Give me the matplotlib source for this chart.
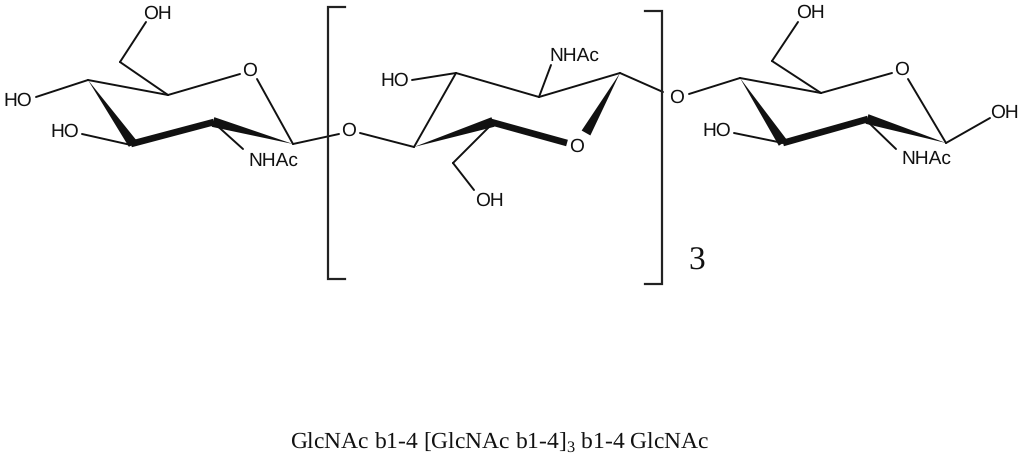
#!/usr/bin/env python3
"""Chitin oligomer structure: GlcNAc b1-4 [GlcNAc b1-4]3 b1-4 GlcNAc, drawn in pixel coords."""

import matplotlib
matplotlib.use("Agg")
import matplotlib.pyplot as plt

plt.rcParams["mathtext.fontset"] = "custom"
plt.rcParams["mathtext.rm"] = "Liberation Serif"
plt.rcParams["text.hinting"] = "no_hinting"

INK = "#111111"

# --- Structure (image pixels: x, y) ---
bonds = [
    # left ring
    ((146, 22), (120, 62)), ((120, 62), (168, 95)), ((168, 95), (240, 74)),
    ((257, 79), (293, 144)), ((88, 80), (168, 95)), ((36, 97), (88, 80)),
    ((82, 134), (131, 145)), ((213, 122), (243, 149)), ((293, 144), (339, 134)),
    # middle ring
    ((360, 133), (414, 147)), ((414, 147), (456, 73)), ((412, 80), (456, 73)),
    ((456, 73), (539, 97)), ((539, 97), (551, 65)), ((539, 97), (620, 73)),
    ((620, 73), (663, 92)), ((493, 123), (453, 163)), ((453, 163), (474, 190)),
    # right ring
    ((798, 22), (772, 61)), ((772, 61), (821, 93)), ((821, 93), (892, 73)),
    ((908, 79), (946, 143)), ((740, 78), (821, 93)), ((689, 94), (740, 78)),
    ((734, 133), (783, 143)), ((867, 121), (896, 149)), ((946, 143), (990, 118)),
]
bold_bonds = [
    ((131, 144), (214, 122)),
    ((491, 122), (567, 143)),
    ((783, 143), (868, 119)),
]
# tip, centre of the wide end
wedges = [
    ((88, 80), (133, 144)), ((293, 144), (213, 122)),
    ((414, 147), (493, 122)), ((620, 73), (586, 133)),
    ((740, 78), (783, 143)), ((946, 143), (867, 119)),
]
brackets = [
    [(345, 7), (328, 7), (328, 279), (345, 279)],
    [(645, 11), (662, 11), (662, 284), (645, 284)],
]
atom_labels = [
    ("OH", 157, 14), ("O", 250, 71), ("HO", 18, 101), ("HO", 65, 132), ("NHAc", 273, 161),
    ("O", 349, 131), ("HO", 395, 81), ("NHAc", 574, 56), ("O", 577, 147), ("OH", 489, 201),
    ("O", 677, 98), ("OH", 810, 13), ("O", 902, 70), ("HO", 717, 131), ("NHAc", 926, 159),
    ("OH", 1004, 113),
]
caption = r"GlcNAc b1-4 [GlcNAc b1-4]$_{\mathrm{3}}$ b1-4 GlcNAc"

# --- Plot ---
fig = plt.figure(figsize=(10.24, 4.63), dpi=100, facecolor="white")
ax = fig.add_axes([0, 0, 1, 1])
ax.set_xlim(0, 1024)
ax.set_ylim(463, 0)
ax.axis("off")

for a, b in bonds:
    ax.plot([a[0], b[0]], [a[1], b[1]], color=INK, lw=1.4, solid_capstyle="round")

for a, b in bold_bonds:
    ax.plot([a[0], b[0]], [a[1], b[1]], color=INK, lw=4.8, solid_capstyle="butt")

for tip, base in wedges:
    dx, dy = base[0] - tip[0], base[1] - tip[1]
    length = (dx ** 2 + dy ** 2) ** 0.5
    nx, ny = -dy / length * 5, dx / length * 5
    ax.fill([tip[0], base[0] + nx, base[0] - nx], [tip[1], base[1] + ny, base[1] - ny],
            color=INK, lw=0)

for pts in brackets:
    ax.plot([p[0] for p in pts], [p[1] for p in pts], color="#222222", lw=1.6,
            solid_joinstyle="miter")

for label, x, y in atom_labels:
    ax.text(x, y, label, ha="center", va="center", fontsize=13.8,
            family="Liberation Sans", color=INK)

ax.text(697, 262, "3", ha="center", va="center", fontsize=24,
        family="Liberation Serif", color=INK)
ax.text(500, 442, caption, ha="center", va="center", fontsize=16.9,
        family="Liberation Serif", color=INK)

fig.savefig("out.png", dpi=100, facecolor="white")
plt.close()
